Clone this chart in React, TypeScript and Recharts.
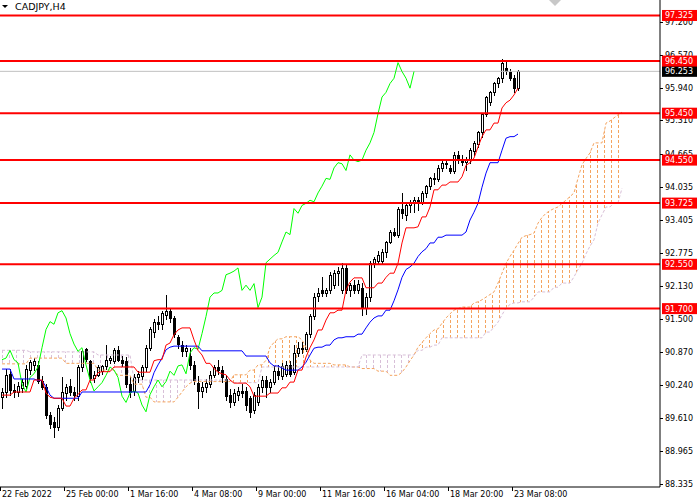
import React from "react";
import { ComposedChart, Bar, Line, Area, XAxis, YAxis, ReferenceLine } from "recharts";

// CADJPY H4 candles (oldest first)
const opens = [
  90.00, 90.10, 90.45, 90.14, 90.10, 90.18, 90.22, 90.52, 90.62, 90.62,
  90.32, 90.20, 89.66, 89.52, 89.42, 89.80, 90.08, 90.22, 90.10, 90.02,
  90.58, 90.92, 90.70, 90.36, 90.42, 90.50, 90.60, 90.72, 90.70, 90.90,
  90.72, 90.70, 90.25, 90.12, 90.38, 90.40, 90.58, 90.95, 91.25, 91.45,
  91.40, 91.58, 91.66, 91.52, 91.15, 91.00, 90.88, 90.80, 90.62, 90.28,
  90.12, 90.20, 90.25, 90.42, 90.58, 90.52, 90.35, 90.05, 89.90, 90.05,
  90.12, 90.12, 89.98, 89.75, 89.90, 90.20, 90.33, 90.20, 90.30, 90.50,
  90.40, 90.45, 90.62, 90.48, 90.85, 90.95, 90.92, 91.22, 91.55, 91.95,
  92.05, 92.00, 92.05, 92.15, 92.38, 92.05, 92.48, 92.05, 92.15, 92.05,
  92.10, 91.72, 91.92, 92.58, 92.62, 92.62, 92.78, 92.98, 93.17, 93.12,
  93.62, 93.50, 93.68, 93.72, 93.78, 93.75, 93.92, 94.05, 94.20, 94.18,
  94.40, 94.50, 94.40, 94.35, 94.65, 94.55, 94.52, 94.55, 94.72, 94.85,
  95.08, 95.44, 95.66, 95.85, 96.02, 96.12, 96.32, 96.24, 96.12, 95.93,
];
const highs = [
  90.18, 90.55, 90.55, 90.25, 90.30, 90.35, 90.62, 90.72, 90.75, 90.70,
  90.40, 90.25, 89.72, 89.62, 89.85, 90.39, 90.25, 90.35, 90.20, 90.62,
  90.90, 90.95, 90.72, 90.50, 90.62, 90.62, 91.00, 90.80, 90.95, 90.98,
  90.80, 90.78, 90.40, 90.45, 90.50, 90.62, 91.00, 91.35, 91.50, 91.55,
  91.65, 91.96, 91.72, 91.55, 91.20, 91.08, 91.00, 90.95, 90.70, 90.40,
  90.30, 90.35, 90.50, 90.62, 90.72, 90.60, 90.42, 90.15, 90.15, 90.20,
  90.25, 90.20, 90.02, 90.10, 90.25, 90.40, 90.40, 90.35, 90.60, 90.62,
  90.65, 90.70, 90.70, 91.00, 91.05, 91.05, 91.25, 91.60, 92.00, 92.10,
  92.30, 92.10, 92.40, 92.45, 92.50, 92.57, 92.55, 92.20, 92.25, 92.25,
  92.20, 92.00, 92.62, 92.70, 92.80, 92.85, 93.00, 93.20, 93.25, 93.65,
  93.92, 93.75, 93.78, 93.85, 93.85, 93.95, 94.08, 94.22, 94.30, 94.45,
  94.55, 94.58, 94.45, 94.70, 94.72, 94.65, 94.60, 94.78, 94.92, 95.10,
  95.45, 95.78, 95.88, 96.05, 96.15, 96.49, 96.45, 96.30, 96.18, 96.27,
];
const lows = [
  89.80, 90.00, 90.05, 90.00, 90.02, 90.10, 90.18, 90.45, 90.52, 90.28,
  90.15, 89.60, 89.40, 89.23, 89.38, 89.75, 89.95, 90.05, 89.95, 89.95,
  90.50, 90.70, 90.30, 90.30, 90.40, 90.45, 90.55, 90.65, 90.65, 90.70,
  90.60, 90.20, 90.00, 90.05, 90.30, 90.35, 90.50, 90.90, 91.15, 91.30,
  91.30, 91.50, 91.45, 91.15, 90.95, 90.80, 90.80, 90.55, 90.25, 89.80,
  90.00, 90.10, 90.20, 90.38, 90.45, 90.30, 89.95, 89.82, 89.85, 89.95,
  90.00, 89.75, 89.62, 89.70, 89.85, 90.10, 90.00, 90.10, 90.25, 90.35,
  90.35, 90.40, 90.40, 90.45, 90.80, 90.85, 90.88, 91.15, 91.50, 91.85,
  91.95, 91.95, 92.00, 92.10, 92.15, 92.00, 92.00, 91.95, 92.00, 92.00,
  91.58, 91.60, 91.85, 92.50, 92.55, 92.58, 92.70, 92.95, 93.10, 93.08,
  93.44, 93.40, 93.55, 93.55, 93.60, 93.70, 93.85, 94.00, 94.10, 94.15,
  94.35, 94.40, 94.30, 94.30, 94.50, 94.45, 94.36, 94.50, 94.65, 94.80,
  95.00, 95.40, 95.60, 95.80, 95.95, 96.05, 96.20, 96.08, 95.85, 95.90,
];
const closes = [
  90.10, 90.42, 90.14, 90.10, 90.22, 90.30, 90.55, 90.68, 90.70, 90.32,
  90.20, 89.66, 89.48, 89.42, 89.80, 90.10, 90.20, 90.10, 90.05, 90.58,
  90.88, 90.74, 90.36, 90.42, 90.58, 90.60, 90.72, 90.75, 90.90, 90.72,
  90.66, 90.25, 90.10, 90.38, 90.45, 90.58, 90.95, 91.30, 91.45, 91.40,
  91.62, 91.66, 91.52, 91.22, 91.02, 90.88, 90.95, 90.62, 90.33, 90.12,
  90.20, 90.28, 90.42, 90.58, 90.52, 90.38, 90.02, 89.90, 90.08, 90.12,
  90.08, 89.85, 89.72, 90.05, 90.20, 90.33, 90.20, 90.30, 90.50, 90.42,
  90.60, 90.62, 90.45, 90.85, 90.95, 90.92, 91.22, 91.55, 91.92, 92.00,
  92.00, 92.05, 92.35, 92.38, 92.42, 92.48, 92.05, 92.15, 92.05, 92.18,
  91.72, 91.92, 92.58, 92.65, 92.72, 92.78, 92.98, 93.17, 93.12, 93.62,
  93.53, 93.68, 93.72, 93.78, 93.75, 93.92, 94.05, 94.20, 94.18, 94.40,
  94.50, 94.48, 94.35, 94.65, 94.55, 94.52, 94.55, 94.74, 94.88, 95.08,
  95.44, 95.76, 95.85, 96.02, 96.12, 96.42, 96.25, 96.12, 95.93, 96.25,
];

// Ichimoku lines as drawn on the chart
const tenkan = [
  90.04, 90.04, 90.04, 90.10, 90.10, 90.10, 90.10, 90.10, 90.33, 90.33,
  90.33, 90.08, 90.00, 89.98, 89.98, 89.98, 89.83, 89.83, 89.98, 90.05,
  90.14, 90.14, 90.33, 90.33, 90.47, 90.49, 90.49, 90.49, 90.58, 90.58,
  90.58, 90.58, 90.58, 90.58, 90.48, 90.48, 90.48, 90.48, 90.70, 90.72,
  90.72, 91.00, 91.04, 91.20, 91.29, 91.33, 91.33, 91.33, 91.10, 90.90,
  90.81, 90.65, 90.65, 90.55, 90.48, 90.45, 90.43, 90.33, 90.27, 90.27,
  90.27, 90.27, 90.20, 90.02, 90.02, 90.02, 90.02, 90.08, 90.08, 90.08,
  90.18, 90.18, 90.29, 90.29, 90.52, 90.52, 90.77, 90.95, 91.10, 91.29,
  91.29, 91.48, 91.62, 91.62, 91.67, 91.67, 92.06, 92.21, 92.29, 92.29,
  92.29, 92.10, 92.10, 92.10, 92.19, 92.19, 92.30, 92.38, 92.38, 92.57,
  92.96, 93.25, 93.25, 93.25, 93.27, 93.46, 93.46, 93.65, 93.98, 93.98,
  94.07, 94.07, 94.13, 94.13, 94.13, 94.23, 94.45, 94.50, 94.59, 94.80,
  95.00, 95.13, 95.13, 95.26, 95.26, 95.55, 95.65, 95.70, 95.80, 95.93,
];
const kijun = [
  90.54, 90.54, 90.54, 90.35, 90.35, 90.35, 90.35, 90.35, 90.35, 90.32,
  90.32, 90.20, 90.04, 89.98, 89.98, 89.98, 89.98, 89.98, 89.98, 89.98,
  90.10, 90.10, 90.10, 90.10, 90.10, 90.10, 90.10, 90.10, 90.10, 90.10,
  90.10, 90.10, 90.10, 90.10, 90.10, 90.10, 90.10, 90.24, 90.47, 90.62,
  90.75, 90.91, 90.96, 90.98, 90.98, 90.98, 90.98, 90.98, 90.98, 90.98,
  90.89, 90.89, 90.89, 90.89, 90.89, 90.89, 90.89, 90.89, 90.89, 90.89,
  90.89, 90.79, 90.79, 90.79, 90.79, 90.79, 90.79, 90.66, 90.60, 90.60,
  90.56, 90.52, 90.52, 90.52, 90.52, 90.58, 90.67, 90.81, 90.94, 90.96,
  90.96, 91.00, 91.00, 91.10, 91.14, 91.14, 91.16, 91.16, 91.16, 91.21,
  91.21, 91.33, 91.44, 91.52, 91.56, 91.56, 91.67, 91.67, 91.85, 92.06,
  92.30, 92.45, 92.50, 92.57, 92.70, 92.79, 92.85, 92.96, 92.96, 93.07,
  93.07, 93.11, 93.11, 93.11, 93.11, 93.11, 93.17, 93.40, 93.55, 93.72,
  94.03, 94.30, 94.50, 94.50, 94.50, 94.74, 94.97, 95.00, 95.00, 95.05,
];
// cloud spans, 26 bars ahead of price
const spanA = [
  90.64, 90.64, 90.64, 90.64, 90.64, 90.64, 90.64, 90.75, 90.75, 90.75,
  90.75, 90.75, 90.75, 90.75, 90.75, 90.75, 90.65, 90.65, 90.65, 90.65,
  90.65, 90.65, 90.65, 90.65, 90.52, 90.52, 90.52, 90.52, 90.52, 90.42,
  90.42, 90.42, 90.42, 90.25, 90.25, 90.25, 90.00, 90.00, 89.91, 89.91,
  89.91, 89.91, 89.91, 89.91, 90.00, 90.10, 90.20, 90.27, 90.30, 90.30,
  90.30, 90.30, 90.30, 90.30, 90.30, 90.30, 90.30, 90.30, 90.43, 90.43,
  90.43, 90.43, 90.52, 90.52, 90.62, 90.62, 90.71, 90.96, 91.05, 91.12,
  91.12, 91.16, 91.16, 91.16, 91.16, 91.10, 90.96, 90.71, 90.65, 90.65,
  90.65, 90.65, 90.65, 90.62, 90.62, 90.62, 90.62, 90.58, 90.58, 90.58,
  90.55, 90.55, 90.55, 90.55, 90.50, 90.50, 90.50, 90.42, 90.42, 90.42,
  90.48, 90.58, 90.70, 90.81, 90.96, 91.05, 91.14, 91.22, 91.29, 91.31,
  91.42, 91.52, 91.60, 91.67, 91.70, 91.73, 91.73, 91.73, 91.81, 91.83,
  91.87, 91.92, 91.97, 92.02, 92.19, 92.38, 92.57, 92.70, 92.82, 92.95,
  93.07, 93.10, 93.12, 93.15, 93.34, 93.45, 93.53, 93.58, 93.62, 93.65,
  93.72, 93.78, 93.85, 93.92, 94.20, 94.46, 94.58, 94.69, 94.88, 94.88,
  94.88, 95.26, 95.30, 95.36, 95.42, 95.47,
];
const spanB = [
  90.90, 90.90, 90.90, 90.90, 90.90, 90.90, 90.90, 90.87, 90.87, 90.87,
  90.87, 90.87, 90.87, 90.87, 90.87, 90.87, 90.87, 90.87, 90.87, 90.87,
  90.87, 90.87, 90.87, 90.87, 90.81, 90.81, 90.81, 90.81, 90.81, 90.81,
  90.81, 90.81, 90.81, 90.33, 90.33, 90.33, 90.33, 90.33, 90.33, 90.33,
  90.33, 90.33, 90.33, 90.33, 90.33, 90.33, 90.33, 90.33, 90.33, 90.33,
  90.33, 90.33, 90.33, 90.33, 90.33, 90.33, 90.33, 90.33, 90.28, 90.28,
  90.28, 90.28, 90.28, 90.28, 90.28, 90.58, 90.58, 90.58, 90.58, 90.58,
  90.58, 90.58, 90.58, 90.58, 90.58, 90.58, 90.58, 90.58, 90.58, 90.58,
  90.58, 90.58, 90.58, 90.58, 90.58, 90.58, 90.58, 90.58, 90.58, 90.58,
  90.81, 90.81, 90.81, 90.81, 90.81, 90.81, 90.81, 90.81, 90.81, 90.81,
  90.81, 90.81, 90.81, 90.81, 90.90, 90.90, 90.96, 90.96, 91.00, 91.00,
  91.14, 91.14, 91.14, 91.14, 91.14, 91.14, 91.14, 91.14, 91.14, 91.14,
  91.14, 91.25, 91.25, 91.35, 91.44, 91.58, 91.71, 91.78, 91.81, 91.81,
  91.83, 91.83, 91.83, 91.92, 92.02, 92.02, 92.02, 92.02, 92.11, 92.11,
  92.19, 92.19, 92.19, 92.31, 92.45, 92.57, 92.75, 92.90, 93.02, 93.34,
  93.50, 93.65, 93.65, 93.73, 93.73, 94.01,
];
const CHIKOU_SHIFT = 26;
const TOTAL_SLOTS = 165; // bars + cloud shift + right margin

const timeLabels: Record<number, string> = {
  0: "22 Feb 2022",
  16: "25 Feb 00:00",
  32: "1 Mar 16:00",
  48: "4 Mar 08:00",
  64: "9 Mar 00:00",
  80: "11 Mar 16:00",
  96: "16 Mar 04:00",
  112: "18 Mar 20:00",
  128: "23 Mar 08:00",
};
const priceTicks = [
  97.2, 96.57, 95.94, 95.31, 94.665, 94.035, 93.405, 92.775,
  92.13, 91.5, 90.87, 90.24, 89.61, 88.965, 88.335,
];
const levels = [97.325, 96.45, 95.45, 94.55, 93.725, 92.55, 91.7];
const lastPrice = 96.253;

const FONT = "DejaVu Sans";
const AXIS_X = 660;
const AXIS_Y = 487;

const rows = Array.from({ length: TOTAL_SLOTS }, (_, i) => {
  const hasBar = i < closes.length;
  const hasCloud = i < spanA.length;
  const a = hasCloud ? spanA[i] : 0;
  const b = hasCloud ? spanB[i] : 0;
  return {
    i,
    open: hasBar ? opens[i] : null,
    high: hasBar ? highs[i] : null,
    low: hasBar ? lows[i] : null,
    close: hasBar ? closes[i] : null,
    range: hasBar ? [lows[i], highs[i]] : null,
    tenkan: hasBar ? tenkan[i] : null,
    kijun: hasBar ? kijun[i] : null,
    chikou: i + CHIKOU_SHIFT < closes.length ? closes[i + CHIKOU_SHIFT] : null,
    spanA: hasCloud ? a : null,
    spanB: hasCloud ? b : null,
    bull: hasCloud ? [b, Math.max(a, b)] : null,
    bear: hasCloud ? [a, Math.max(a, b)] : null,
  };
});

const Candle = (props: any) => {
  const { x, y, width, height, payload } = props;
  if (!payload || payload.open == null) return <g />;
  const { open, high, low, close } = payload;
  const h = Math.abs(height);
  const k = high > low ? h / (high - low) : 0;
  const yO = y + (high - open) * k;
  const yC = y + (high - close) * k;
  const cx = Math.floor(x + width / 2);
  const top = Math.round(Math.min(yO, yC));
  const bot = Math.max(Math.round(Math.max(yO, yC)), top + 1);
  const up = close >= open;
  return (
    <g>
      <line x1={cx + 0.5} x2={cx + 0.5} y1={Math.round(y)} y2={Math.round(y + h) + 1} stroke="#000" />
      <rect x={cx - 0.5} y={top + 0.5} width={2} height={bot - top} fill={up ? "#fff" : "#000"} stroke="#000" />
    </g>
  );
};

const PriceTick = (props: any) => {
  const { y, payload } = props;
  const v = payload.value;
  const txt = v.toFixed(3);
  if (levels.includes(v) || v === lastPrice) {
    return (
      <g>
        <rect x={662} y={y - 5.5} width={35} height={11} fill={v === lastPrice ? "#000" : "#ff0000"} />
        <text x={665} y={y + 3} fontSize={8} fontFamily={FONT} fill="#fff">{txt}</text>
      </g>
    );
  }
  return (
    <g>
      <line x1={AXIS_X} x2={AXIS_X + 3} y1={Math.round(y) + 0.5} y2={Math.round(y) + 0.5} stroke="#000" />
      <text x={665} y={y + 3} fontSize={8} fontFamily={FONT} fill="#000">{txt}</text>
    </g>
  );
};

const TimeTick = (props: any) => {
  const { x, payload } = props;
  const label = timeLabels[payload.value];
  if (!label) return <g />;
  const left = Math.round(x - 2);
  return (
    <g>
      <line x1={left + 0.5} x2={left + 0.5} y1={AXIS_Y} y2={AXIS_Y + 4} stroke="#000" />
      <text x={left + 2} y={497} fontSize={8} fontFamily={FONT} fill="#000">{label}</text>
    </g>
  );
};

export default function App() {
  return (
    <div style={{ position: "relative", width: 700, height: 500, background: "#fff" }}>
      <style>{"body{margin:0}"}</style>
      <ComposedChart width={700} height={500} data={rows} margin={{ top: 0, right: 0, bottom: 0, left: 0 }}>
        <defs>
          <pattern id="hatchBull" patternUnits="userSpaceOnUse" x="0" y="0" width="7" height="5">
            <line x1="2.5" y1="0" x2="2.5" y2="3" stroke="#F4A460" strokeWidth="1" />
          </pattern>
          <pattern id="hatchBear" patternUnits="userSpaceOnUse" x="0" y="0" width="7" height="5">
            <line x1="2.5" y1="0" x2="2.5" y2="3" stroke="#D8BFD8" strokeWidth="1" />
          </pattern>
        </defs>
        <XAxis
          dataKey="i"
          type="category"
          interval={0}
          height={13}
          tick={(p: any) => <TimeTick {...p} />}
          tickLine={false}
          axisLine={{ stroke: "#000" }}
        />
        <YAxis
          orientation="right"
          type="number"
          width={40}
          domain={[88.277, 97.622]}
          allowDataOverflow
          ticks={[...priceTicks, lastPrice, ...levels]}
          interval={0}
          tick={(p: any) => <PriceTick {...p} />}
          tickLine={false}
          axisLine={{ stroke: "#000" }}
        />
        <Area dataKey="bull" type="linear" stroke="none" fill="url(#hatchBull)" fillOpacity={1} dot={false} activeDot={false} isAnimationActive={false} />
        <Area dataKey="bear" type="linear" stroke="none" fill="url(#hatchBear)" fillOpacity={1} dot={false} activeDot={false} isAnimationActive={false} />
        <Line dataKey="spanA" type="linear" stroke="#F4A460" strokeDasharray="3 2" dot={false} activeDot={false} isAnimationActive={false} />
        <Line dataKey="spanB" type="linear" stroke="#D8BFD8" strokeDasharray="3 2" dot={false} activeDot={false} isAnimationActive={false} />
        <ReferenceLine y={lastPrice} stroke="#c0c0c0" strokeWidth={1} />
        <Bar dataKey="range" barSize={3} shape={(p: any) => <Candle {...p} />} activeBar={false} isAnimationActive={false} />
        <Line dataKey="chikou" type="linear" stroke="#00ff00" strokeWidth={1} dot={false} activeDot={false} isAnimationActive={false} />
        <Line dataKey="kijun" type="linear" stroke="#0000ff" strokeWidth={1} dot={false} activeDot={false} isAnimationActive={false} />
        <Line dataKey="tenkan" type="linear" stroke="#ff0000" strokeWidth={1} dot={false} activeDot={false} isAnimationActive={false} />
        {levels.map((lv) => (
          <ReferenceLine key={lv} y={lv} stroke="#ff0000" strokeWidth={2} />
        ))}
      </ComposedChart>
      <svg width={700} height={500} style={{ position: "absolute", left: 0, top: 0, pointerEvents: "none" }}>
        <polygon points="2,5 8,5 5,8" fill="#000" />
        <text x={15} y={10} fontSize={9.5} fontFamily={FONT} fill="#000">CADJPY,H4</text>
        <polygon points="549,0 561,0 555,6" fill="#c8c8c8" />
      </svg>
    </div>
  );
}
